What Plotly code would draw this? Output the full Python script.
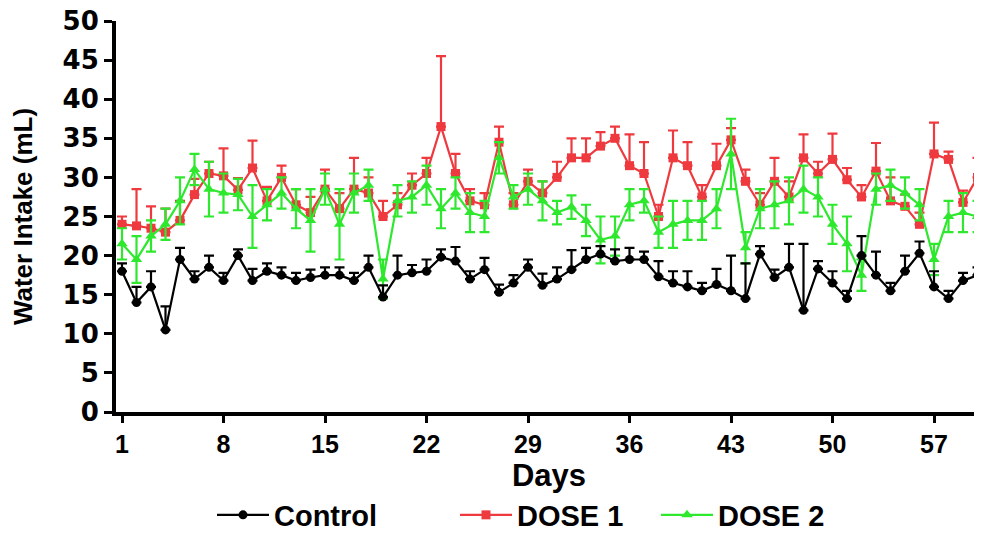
import plotly.graph_objects as go

days = list(range(1, 61))

control = [18, 14, 16, 10.5, 19.5, 17, 18.5, 16.8, 20, 16.8,
           18, 17.5, 16.8, 17.2, 17.5, 17.5, 16.8, 18.5, 14.7, 17.5,
           17.8, 18, 19.8, 19.3, 17, 18.2, 15.3, 16.5, 18.5, 16.2,
           17, 18.2, 19.5, 20.2, 19.3, 19.5, 19.5, 17.3, 16.5, 16,
           15.5, 16.3, 15.5, 14.5, 20.2, 17.2, 18.5, 13, 18.3, 16.5,
           14.5, 20, 17.5, 15.5, 18, 20.3, 16, 14.5, 16.8, 17.5]
control_err = [1, 2, 2, 3, 1.5, 1, 1.5, 1, 0.8, 1.5,
               1, 1, 1, 1, 1, 1, 1, 1.5, 1.5, 2.5,
               1, 1.5, 1, 1.8, 1, 1.5, 1, 1, 1, 1.5,
               1.5, 2.5, 1.5, 1, 1.5, 1.5, 1, 2, 1.5, 2,
               1, 2, 4.5, 4.5, 1, 1, 3, 8.5, 1, 1.5,
               1, 2.5, 3, 1, 2, 1.5, 2, 1, 1, 1]

dose1 = [24, 23.8, 23.5, 23, 24.5, 27.8, 30.5, 30.2, 28.4, 31.2,
         27, 30, 26.5, 25.5, 28.5, 26, 28.5, 28, 25, 26.5,
         29, 30.5, 36.5, 30.5, 27, 26.5, 34.5, 26.5, 29.5, 28,
         30, 32.5, 32.5, 34, 35, 31.5, 30.5, 25, 32.5, 31.5,
         27.5, 31.5, 34.8, 29.5, 26.5, 29.5, 27.5, 32.5, 30.5, 32.3,
         29.7, 27.5, 30.8, 27, 26.3, 24, 33, 32.3, 26.8, 30]
dose1_err = [1, 4.7, 2.8, 3, 2.5, 2, 1.5, 3.5, 1.5, 3.5,
             1.8, 1.5, 2, 2, 2.5, 2, 4, 2, 2, 1.5,
             1.5, 2, 9, 2.5, 1.5, 1.5, 2, 1.5, 1.5, 1.5,
             2, 2.5, 2.5, 1.8, 1.5, 4, 4, 1.5, 3.5, 3,
             1.5, 2.8, 1.5, 1.5, 1.5, 3, 2, 3, 1.5, 3.3,
             1.5, 1.5, 3.6, 3, 1.5, 1.5, 4, 1, 1.5, 2.5]

dose2 = [21.5, 19.5, 22.5, 24, 27, 31, 28.5, 28, 27.8, 25,
         26.5, 28, 26, 24.5, 28.5, 24, 28, 29, 17, 27,
         27.5, 29, 26, 28, 25.5, 25, 32.5, 27.5, 28.5, 27,
         25.5, 26.2, 24.5, 22, 22.5, 26.5, 27, 23, 24, 24.5,
         24.5, 26, 33, 21, 26, 26.5, 27, 28.5, 27.5, 24,
         21.5, 17.5, 28.5, 29, 28, 26.5, 19.5, 25, 25.5, 25]
dose2_err = [2, 3, 2, 2, 3, 2, 3.5, 2.5, 2, 4,
             2, 2, 2.5, 4, 2, 4.5, 2.5, 2, 2.5, 2,
             2, 2.5, 2.5, 2, 2.5, 2, 2, 1.5, 2, 2.5,
             1.5, 1.5, 2, 3, 2.5, 2, 1.5, 2, 3, 2.5,
             2.5, 2.5, 4.5, 2, 2.5, 3, 3, 3, 2.5, 2.5,
             3.5, 2, 2, 2, 2, 2, 2, 2, 2.5, 2]

x_ticks = [1, 8, 15, 22, 29, 36, 43, 50, 57]
y_ticks = [0, 5, 10, 15, 20, 25, 30, 35, 40, 45, 50]

RED = "#EE3A3F"
GREEN = "#2EE82E"
BLACK = "#000000"

SANS = "Liberation Sans, Arial, sans-serif"
LEG_FONT = dict(size=29, weight="bold", family=SANS, color="black")

fig = go.Figure()

fig.add_trace(go.Scatter(
    x=days, y=dose1, name="DOSE 1", mode="lines+markers",
    line=dict(color=RED, width=2.2),
    marker=dict(symbol="square", size=9, color=RED),
    error_y=dict(type="data", array=dose1_err, arrayminus=[0] * len(days),
                 symmetric=False, color=RED, thickness=2.2, width=5),
    legend="legend2",
))
fig.add_trace(go.Scatter(
    x=days, y=dose2, name="DOSE 2", mode="lines+markers",
    line=dict(color=GREEN, width=2.2),
    marker=dict(symbol="triangle-up", size=10, color=GREEN),
    error_y=dict(type="data", array=dose2_err, color=GREEN, thickness=2.2, width=5),
    legend="legend3",
))
fig.add_trace(go.Scatter(
    x=days, y=control, name="Control", mode="lines+markers",
    line=dict(color=BLACK, width=2.2),
    marker=dict(symbol="circle", size=9, color=BLACK),
    error_y=dict(type="data", array=control_err, arrayminus=[0] * len(days),
                 symmetric=False, color=BLACK, thickness=2.2, width=5),
    legend="legend",
))

# the page adds an 8px body margin; plot area in the screenshot spans x 116-982, y 21-412
def leg_pos(px):
    return (px - 116) / 866.0

LEG_Y = (412 - 515) / 391.0

fig.update_layout(
    width=974, height=525,
    margin=dict(l=108, r=0, t=13, b=121, autoexpand=False),
    paper_bgcolor="white", plot_bgcolor="white",
    font=dict(family=SANS, color="black"),
    showlegend=True,
    legend=dict(x=leg_pos(212), xanchor="left", y=LEG_Y, yanchor="middle",
                font=LEG_FONT, bgcolor="rgba(0,0,0,0)", itemwidth=52),
    legend2=dict(x=leg_pos(455), xanchor="left", y=LEG_Y, yanchor="middle",
                 font=LEG_FONT, bgcolor="rgba(0,0,0,0)", itemwidth=52),
    legend3=dict(x=leg_pos(656), xanchor="left", y=LEG_Y, yanchor="middle",
                 font=LEG_FONT, bgcolor="rgba(0,0,0,0)", itemwidth=52),
    xaxis=dict(
        range=[0.586, 60.31], tickvals=x_ticks, ticktext=[str(t) for t in x_ticks],
        showgrid=False, zeroline=False, showline=True, linecolor="black", linewidth=4,
        ticks="outside", ticklen=7, tickwidth=3, tickcolor="black", automargin=False,
        ticklabeloverflow="allow",
        tickfont=dict(size=25, weight="bold", family=SANS),
        title=dict(text="Days", font=dict(size=31, weight="bold", family=SANS), standoff=6),
    ),
    yaxis=dict(
        range=[0, 50], tickvals=y_ticks,
        showgrid=False, zeroline=False, showline=True, linecolor="black", linewidth=4,
        ticks="outside", ticklen=8, tickwidth=3, tickcolor="black", automargin=False,
        ticklabeloverflow="allow",
        tickfont=dict(size=26, weight="bold", family="DejaVu Sans, Liberation Sans, sans-serif"),
        title=dict(text="Water Intake (mL)",
                   font=dict(size=26, weight="bold", family=SANS),
                   standoff=28),
    ),
)

fig.write_html("out.html")
